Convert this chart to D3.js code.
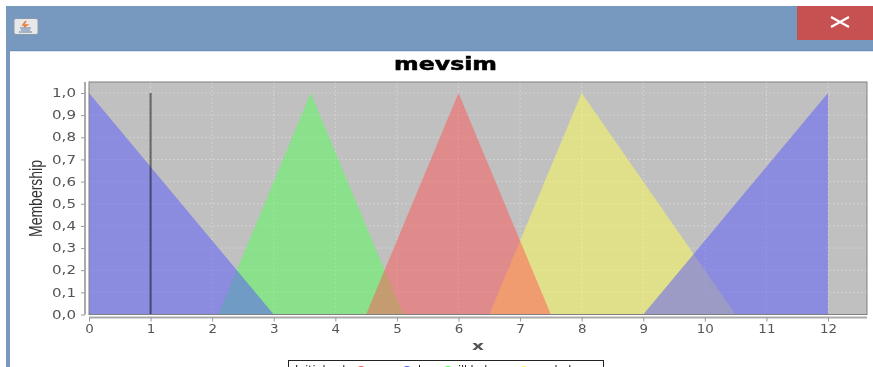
<!DOCTYPE html>
<html lang="tr">
  <head>
    <meta charset="UTF-8" />
    <title>mevsim</title>
    <script src="https://d3js.org/d3.v7.min.js"></script>
    <style>
      html, body { margin: 0; padding: 0; background: #fff; overflow: hidden; }
      svg { display: block; }
      text { font-family: "DejaVu Sans", sans-serif; }
      .soft { filter: blur(0.4px); }
      .tick text { fill: #555; font-size: 11.5px; }
      .tick line { stroke: #999; }
      .domain { stroke: #aaa; stroke-width: 2px; }
    </style>
  </head>
  <body>
    <svg id="canvas"></svg>
    <script>
      let title = "mevsim";
      let xLabel = "x";
      let yLabel = "Membership";

      let xTicks = [0, 1, 2, 3, 4, 5, 6, 7, 8, 9, 10, 11, 12];
      let yTicks = [0, 0.1, 0.2, 0.3, 0.4, 0.5, 0.6, 0.7, 0.8, 0.9, 1];

      // [x, membership] corners
      let ilkbahar = [[2.1, 0], [3.6, 1], [5.1, 0]];
      let yaz = [[4.5, 0], [6, 1], [7.5, 0]];
      let sonbahar = [[6.5, 0], [8, 1], [10.5, 0]];
      let kisLeft = [[0, 0], [0, 1], [3, 0]];
      let kisRight = [[9, 0], [12, 1], [12, 0]];
      let inputValue = [[1, 0], [1, 1]];

      let legendNames = ["Initial value", "yaz", "kış", "ilkbahar", "sonbahar"];

      let width = 873;
      let height = 367;

      let plotLeft = 89;
      let plotRight = 867;
      let plotTop = 82;
      let plotBottom = 314.5;

      let svg = d3.select("svg").attr("width", width).attr("height", height);

      let xScale = d3.scaleLinear().domain([0, 12]).range([89, 828]);
      let yScale = d3.scaleLinear().domain([0, 1]).range([plotBottom, 93]);

      let drawWindow = () => {
        svg.append("rect").attr("x", 6).attr("y", 6).attr("width", 867).attr("height", 44).attr("fill", "#7799bf");
        svg.append("rect").attr("x", 6).attr("y", 50).attr("width", 867).attr("height", 1).attr("fill", "#6d8fb5");
        svg.append("rect").attr("x", 6).attr("y", 51).attr("width", 867).attr("height", 1).attr("fill", "#dbe6f0");
        svg.append("rect").attr("x", 6).attr("y", 50).attr("width", 4).attr("height", 317).attr("fill", "#7799bf");
        svg.append("rect").attr("x", 797).attr("y", 6).attr("width", 76).attr("height", 34).attr("fill", "#c75050");

        svg.append("path")
          .attr("d", "M831 17 L849 27 M849 17 L831 27")
          .attr("stroke", "#fff")
          .attr("stroke-width", 2.2)
          .attr("fill", "none");

        // java icon button
        let icon = svg.append("g").attr("class", "soft");
        icon.append("rect")
          .attr("x", 14).attr("y", 18.5).attr("width", 24).attr("height", 16).attr("rx", 2)
          .attr("fill", "#e6e8ea").attr("stroke", "#8d99a6");
        icon.append("path")
          .attr("d", "M26 21 L23 25 L27 25 L24 27")
          .attr("stroke", "#e8803a").attr("stroke-width", 1.6).attr("fill", "none");
        icon.append("path")
          .attr("d", "M20 28 H31 M21 30 H30 M19 32 H32")
          .attr("stroke", "#5c7f9e").attr("stroke-width", 1).attr("fill", "none");
      };

      let drawPlot = () => {
        let g = svg.append("g").attr("class", "soft");

        g.append("rect")
          .attr("x", plotLeft)
          .attr("y", plotTop)
          .attr("width", plotRight - plotLeft)
          .attr("height", plotBottom - plotTop)
          .attr("fill", "#c0c0c0");

        g.selectAll(".gx")
          .data(xTicks)
          .enter()
          .append("line")
          .attr("x1", (d) => xScale(d))
          .attr("x2", (d) => xScale(d))
          .attr("y1", plotTop)
          .attr("y2", plotBottom)
          .attr("stroke", "#fff")
          .attr("stroke-opacity", 0.3)
          .attr("stroke-dasharray", "2 2");

        g.selectAll(".gy")
          .data(yTicks)
          .enter()
          .append("line")
          .attr("x1", plotLeft)
          .attr("x2", plotRight)
          .attr("y1", (d) => yScale(d))
          .attr("y2", (d) => yScale(d))
          .attr("stroke", "#fff")
          .attr("stroke-opacity", 0.3)
          .attr("stroke-dasharray", "2 2");

        let area = d3.line()
          .x((d) => xScale(d[0]))
          .y((d) => yScale(d[1]));

        // drawn last series first, same as the legend backwards
        let layers = [
          [sonbahar, "#ffff55"],
          [ilkbahar, "#55ff55"],
          [kisLeft, "#5555ff"],
          [kisRight, "#5555ff"],
          [yaz, "#ff5555"],
        ];

        g.selectAll(".mf")
          .data(layers)
          .enter()
          .append("path")
          .attr("d", (d) => area(d[0]) + "Z")
          .attr("fill", (d) => d[1])
          .attr("fill-opacity", 0.5);

        g.append("path")
          .attr("d", area(inputValue))
          .attr("stroke", "#000")
          .attr("stroke-opacity", 0.5)
          .attr("stroke-width", 2)
          .attr("fill", "none");

        g.append("rect")
          .attr("x", plotLeft)
          .attr("y", plotTop)
          .attr("width", plotRight - plotLeft)
          .attr("height", plotBottom - plotTop)
          .attr("stroke", "#808080")
          .attr("fill", "none");
      };

      let drawAxes = () => {
        let g = svg.append("g").attr("class", "soft");

        let xAxis = d3.axisBottom(xScale).tickValues(xTicks).tickSize(4).tickPadding(3).tickSizeOuter(0);
        let yAxis = d3.axisLeft(yScale)
          .tickValues(yTicks)
          .tickSize(4)
          .tickPadding(5)
          .tickSizeOuter(0)
          .tickFormat((d) => d3.format(".1f")(d).replace(".", ","));

        let xg = g.append("g").attr("transform", "translate(0,317.5)").call(xAxis);
        xg.select(".domain").attr("d", `M${plotLeft} 0 H${plotRight}`);

        let yg = g.append("g").attr("transform", "translate(85,0)").call(yAxis);
        yg.select(".domain").attr("d", `M0 ${plotTop} V${plotBottom}`);

        // the screenshot is stretched sideways
        xg.selectAll(".tick text").attr("transform", "scale(1.17,1)");
        yg.selectAll(".tick text").attr("textLength", 24).attr("lengthAdjust", "spacingAndGlyphs");

        g.append("text")
          .attr("x", 394)
          .attr("y", 70)
          .attr("textLength", 103)
          .attr("lengthAdjust", "spacingAndGlyphs")
          .attr("font-size", 17)
          .attr("font-weight", "bold")
          .attr("fill", "#000")
          .attr("stroke", "#000")
          .attr("stroke-width", 0.5)
          .text(title);

        g.append("text")
          .attr("x", 472)
          .attr("y", 350)
          .attr("textLength", 12)
          .attr("lengthAdjust", "spacingAndGlyphs")
          .attr("font-size", 12)
          .attr("font-weight", "bold")
          .attr("fill", "#555")
          .text(xLabel);

        g.append("text")
          .attr("transform", "translate(42,237) rotate(-90)")
          .attr("textLength", 77)
          .attr("lengthAdjust", "spacingAndGlyphs")
          .style("font-family", "'Liberation Sans', sans-serif")
          .attr("font-size", 18)
          .attr("fill", "#333")
          .text(yLabel);
      };

      let drawLegend = () => {
        let g = svg.append("g").attr("class", "soft");

        g.append("rect")
          .attr("x", 288.5)
          .attr("y", 360.5)
          .attr("width", 315)
          .attr("height", 30)
          .attr("fill", "#fff")
          .attr("stroke", "#222");

        let keyX = d3.scaleOrdinal().domain(legendNames).range([null, 361, 407, 448, 524]);
        let textX = d3.scaleOrdinal().domain(legendNames).range([295, 372, 418, 458, 535]);
        let keyColor = d3.scaleOrdinal().domain(legendNames).range([null, "#ff5555", "#5555ff", "#55ff55", "#ffff55"]);

        g.selectAll(".key")
          .data(legendNames.slice(1))
          .enter()
          .append("circle")
          .attr("cx", (d) => keyX(d))
          .attr("cy", 370)
          .attr("r", 4)
          .attr("fill", (d) => keyColor(d));

        g.selectAll(".name")
          .data(legendNames)
          .enter()
          .append("text")
          .attr("x", (d) => textX(d))
          .attr("y", 373)
          .attr("font-size", 11)
          .attr("fill", "#222")
          .text((d) => d);
      };

      drawWindow();
      drawPlot();
      drawAxes();
      drawLegend();
    </script>
  </body>
</html>
